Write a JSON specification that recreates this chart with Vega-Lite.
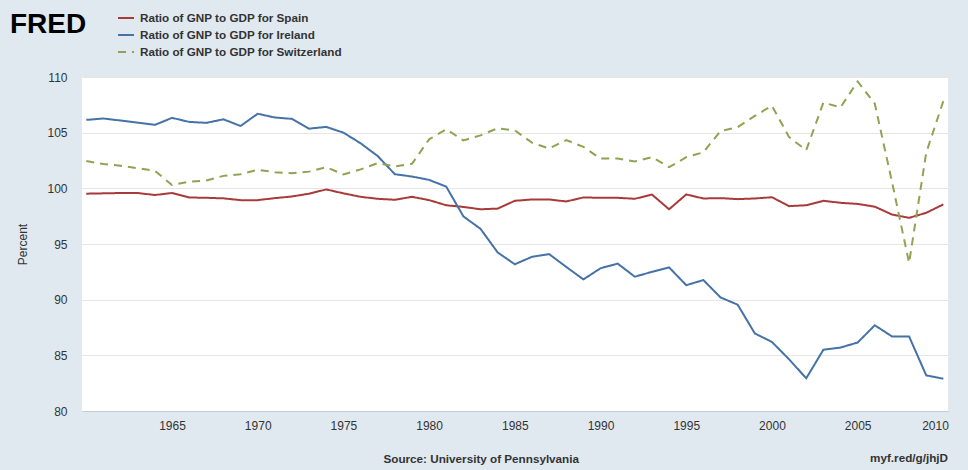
{
  "$schema": "https://vega.github.io/schema/vega-lite/v6.json",
  "width": 866,
  "height": 334,
  "autosize": {"type": "none"},
  "padding": {"left": 82, "top": 77, "right": 20, "bottom": 59},
  "background": "#E1E9F0",
  "config": {"view": {"fill": "#ffffff", "stroke": null}, "font": "Liberation Sans"},
  "title": {"text": "myf.red/g/jhjD", "orient": "bottom", "anchor": "end", "frame": "group", "fontSize": 11.7, "fontWeight": "bold", "color": "#333333", "offset": 0, "dy": -12},
  "datasets": {
    "gnp": [
      {"year":1960,"country":"Spain","value":99.52},{"year":1961,"country":"Spain","value":99.55},{"year":1962,"country":"Spain","value":99.58},{"year":1963,"country":"Spain","value":99.58},{"year":1964,"country":"Spain","value":99.4},{"year":1965,"country":"Spain","value":99.58},{"year":1966,"country":"Spain","value":99.18},{"year":1967,"country":"Spain","value":99.15},{"year":1968,"country":"Spain","value":99.1},{"year":1969,"country":"Spain","value":98.94},{"year":1970,"country":"Spain","value":98.94},{"year":1971,"country":"Spain","value":99.12},{"year":1972,"country":"Spain","value":99.27},{"year":1973,"country":"Spain","value":99.52},{"year":1974,"country":"Spain","value":99.9},{"year":1975,"country":"Spain","value":99.55},{"year":1976,"country":"Spain","value":99.24},{"year":1977,"country":"Spain","value":99.06},{"year":1978,"country":"Spain","value":98.97},{"year":1979,"country":"Spain","value":99.24},{"year":1980,"country":"Spain","value":98.94},{"year":1981,"country":"Spain","value":98.48},{"year":1982,"country":"Spain","value":98.33},{"year":1983,"country":"Spain","value":98.12},{"year":1984,"country":"Spain","value":98.18},{"year":1985,"country":"Spain","value":98.88},{"year":1986,"country":"Spain","value":99.0},{"year":1987,"country":"Spain","value":99.0},{"year":1988,"country":"Spain","value":98.82},{"year":1989,"country":"Spain","value":99.18},{"year":1990,"country":"Spain","value":99.15},{"year":1991,"country":"Spain","value":99.15},{"year":1992,"country":"Spain","value":99.06},{"year":1993,"country":"Spain","value":99.44},{"year":1994,"country":"Spain","value":98.12},{"year":1995,"country":"Spain","value":99.45},{"year":1996,"country":"Spain","value":99.09},{"year":1997,"country":"Spain","value":99.12},{"year":1998,"country":"Spain","value":99.03},{"year":1999,"country":"Spain","value":99.09},{"year":2000,"country":"Spain","value":99.2},{"year":2001,"country":"Spain","value":98.4},{"year":2002,"country":"Spain","value":98.48},{"year":2003,"country":"Spain","value":98.88},{"year":2004,"country":"Spain","value":98.7},{"year":2005,"country":"Spain","value":98.6},{"year":2006,"country":"Spain","value":98.35},{"year":2007,"country":"Spain","value":97.65},{"year":2008,"country":"Spain","value":97.35},{"year":2009,"country":"Spain","value":97.8},{"year":2010,"country":"Spain","value":98.56},
      {"year":1960,"country":"Ireland","value":106.15},{"year":1961,"country":"Ireland","value":106.27},{"year":1962,"country":"Ireland","value":106.09},{"year":1963,"country":"Ireland","value":105.9},{"year":1964,"country":"Ireland","value":105.7},{"year":1965,"country":"Ireland","value":106.33},{"year":1966,"country":"Ireland","value":105.97},{"year":1967,"country":"Ireland","value":105.88},{"year":1968,"country":"Ireland","value":106.2},{"year":1969,"country":"Ireland","value":105.6},{"year":1970,"country":"Ireland","value":106.7},{"year":1971,"country":"Ireland","value":106.36},{"year":1972,"country":"Ireland","value":106.24},{"year":1973,"country":"Ireland","value":105.36},{"year":1974,"country":"Ireland","value":105.52},{"year":1975,"country":"Ireland","value":105.0},{"year":1976,"country":"Ireland","value":104.05},{"year":1977,"country":"Ireland","value":102.9},{"year":1978,"country":"Ireland","value":101.27},{"year":1979,"country":"Ireland","value":101.06},{"year":1980,"country":"Ireland","value":100.76},{"year":1981,"country":"Ireland","value":100.15},{"year":1982,"country":"Ireland","value":97.48},{"year":1983,"country":"Ireland","value":96.36},{"year":1984,"country":"Ireland","value":94.24},{"year":1985,"country":"Ireland","value":93.18},{"year":1986,"country":"Ireland","value":93.85},{"year":1987,"country":"Ireland","value":94.09},{"year":1988,"country":"Ireland","value":92.94},{"year":1989,"country":"Ireland","value":91.82},{"year":1990,"country":"Ireland","value":92.82},{"year":1991,"country":"Ireland","value":93.24},{"year":1992,"country":"Ireland","value":92.06},{"year":1993,"country":"Ireland","value":92.5},{"year":1994,"country":"Ireland","value":92.9},{"year":1995,"country":"Ireland","value":91.3},{"year":1996,"country":"Ireland","value":91.76},{"year":1997,"country":"Ireland","value":90.2},{"year":1998,"country":"Ireland","value":89.55},{"year":1999,"country":"Ireland","value":86.97},{"year":2000,"country":"Ireland","value":86.2},{"year":2001,"country":"Ireland","value":84.64},{"year":2002,"country":"Ireland","value":82.94},{"year":2003,"country":"Ireland","value":85.5},{"year":2004,"country":"Ireland","value":85.7},{"year":2005,"country":"Ireland","value":86.15},{"year":2006,"country":"Ireland","value":87.7},{"year":2007,"country":"Ireland","value":86.7},{"year":2008,"country":"Ireland","value":86.7},{"year":2009,"country":"Ireland","value":83.2},{"year":2010,"country":"Ireland","value":82.9},
      {"year":1960,"country":"Switzerland","value":102.45},{"year":1961,"country":"Switzerland","value":102.18},{"year":1962,"country":"Switzerland","value":102.03},{"year":1963,"country":"Switzerland","value":101.8},{"year":1964,"country":"Switzerland","value":101.58},{"year":1965,"country":"Switzerland","value":100.3},{"year":1966,"country":"Switzerland","value":100.6},{"year":1967,"country":"Switzerland","value":100.7},{"year":1968,"country":"Switzerland","value":101.12},{"year":1969,"country":"Switzerland","value":101.27},{"year":1970,"country":"Switzerland","value":101.67},{"year":1971,"country":"Switzerland","value":101.45},{"year":1972,"country":"Switzerland","value":101.36},{"year":1973,"country":"Switzerland","value":101.5},{"year":1974,"country":"Switzerland","value":101.9},{"year":1975,"country":"Switzerland","value":101.24},{"year":1976,"country":"Switzerland","value":101.7},{"year":1977,"country":"Switzerland","value":102.27},{"year":1978,"country":"Switzerland","value":101.97},{"year":1979,"country":"Switzerland","value":102.2},{"year":1980,"country":"Switzerland","value":104.4},{"year":1981,"country":"Switzerland","value":105.3},{"year":1982,"country":"Switzerland","value":104.3},{"year":1983,"country":"Switzerland","value":104.76},{"year":1984,"country":"Switzerland","value":105.4},{"year":1985,"country":"Switzerland","value":105.2},{"year":1986,"country":"Switzerland","value":104.1},{"year":1987,"country":"Switzerland","value":103.58},{"year":1988,"country":"Switzerland","value":104.33},{"year":1989,"country":"Switzerland","value":103.73},{"year":1990,"country":"Switzerland","value":102.67},{"year":1991,"country":"Switzerland","value":102.67},{"year":1992,"country":"Switzerland","value":102.42},{"year":1993,"country":"Switzerland","value":102.8},{"year":1994,"country":"Switzerland","value":101.9},{"year":1995,"country":"Switzerland","value":102.8},{"year":1996,"country":"Switzerland","value":103.24},{"year":1997,"country":"Switzerland","value":105.15},{"year":1998,"country":"Switzerland","value":105.5},{"year":1999,"country":"Switzerland","value":106.5},{"year":2000,"country":"Switzerland","value":107.42},{"year":2001,"country":"Switzerland","value":104.6},{"year":2002,"country":"Switzerland","value":103.42},{"year":2003,"country":"Switzerland","value":107.7},{"year":2004,"country":"Switzerland","value":107.27},{"year":2005,"country":"Switzerland","value":109.6},{"year":2006,"country":"Switzerland","value":107.6},{"year":2007,"country":"Switzerland","value":100.6},{"year":2008,"country":"Switzerland","value":93.3},{"year":2009,"country":"Switzerland","value":103.2},{"year":2010,"country":"Switzerland","value":107.85}
    ]
  },
  "data": {"name": "gnp"},
  "mark": {"type": "line", "strokeWidth": 2},
  "encoding": {
    "x": {
      "field": "year", "type": "quantitative",
      "scale": {"domain": [1959.75, 2010.27], "nice": false, "zero": false},
      "axis": {
        "values": [1965, 1970, 1975, 1980, 1985, 1990, 1995, 2000, 2005, 2010],
        "format": "d", "grid": false, "ticks": false,
        "domainColor": "#C3CCD8", "domainWidth": 1,
        "labelFontSize": 12, "labelColor": "#333333", "labelPadding": 9,
        "labelFlush": 10, "labelFlushOffset": 5,
        "title": "Source: University of Pennsylvania",
        "titleFontSize": 11.7, "titleFontWeight": "bold", "titleColor": "#333333",
        "titleAnchor": "start", "titleAlign": "left", "titleX": 301, "titleY": 47, "titleBaseline": "middle"
      }
    },
    "y": {
      "field": "value", "type": "quantitative",
      "scale": {"domain": [80, 110], "nice": false, "zero": false},
      "axis": {
        "values": [80, 85, 90, 95, 100, 105, 110],
        "title": "Percent", "grid": true, "gridColor": "#E6E6E6", "domain": false, "ticks": false,
        "labelPadding": 15, "labelFontSize": 12, "labelColor": "#333333",
        "titleFontSize": 12, "titleFontWeight": "normal", "titleColor": "#333333",
        "titleX": -60, "titleY": 167, "titleAngle": -90, "titleAlign": "center", "titleBaseline": "middle"
      }
    },
    "color": {
      "field": "country", "type": "nominal",
      "scale": {"domain": ["Spain", "Ireland", "Switzerland"], "range": ["#A83A3A", "#4572A7", "#8FA352"]},
      "legend": {
        "orient": "none", "legendX": -72, "legendY": -66,
        "title": "FRED", "titleOrient": "left", "titleFontSize": 28, "titleFontWeight": 900, "titleColor": "#000000",
        "titlePadding": 30, "titleBaseline": "top", "titleAnchor": "start",
        "labelExpr": "'Ratio of GNP to GDP for ' + datum.label", "labelLimit": 0,
        "labelFontSize": 11.7, "labelFontWeight": "bold", "labelColor": "#333333", "labelOffset": 5,
        "symbolType": "stroke", "symbolSize": 256, "symbolStrokeWidth": 2,
        "rowPadding": 3, "clipHeight": 14, "padding": 0
      }
    },
    "strokeDash": {
      "field": "country", "type": "nominal",
      "scale": {"domain": ["Spain", "Ireland", "Switzerland"], "range": [[1, 0], [1, 0], [8, 6]]},
      "legend": {
        "orient": "none", "legendX": -72, "legendY": -66,
        "title": "FRED", "titleOrient": "left", "titleFontSize": 28, "titleFontWeight": 900, "titleColor": "#000000",
        "titlePadding": 30, "titleBaseline": "top", "titleAnchor": "start",
        "labelExpr": "'Ratio of GNP to GDP for ' + datum.label", "labelLimit": 0,
        "labelFontSize": 11.7, "labelFontWeight": "bold", "labelColor": "#333333", "labelOffset": 5,
        "symbolType": "stroke", "symbolSize": 256, "symbolStrokeWidth": 2,
        "rowPadding": 3, "clipHeight": 14, "padding": 0
      }
    }
  }
}
